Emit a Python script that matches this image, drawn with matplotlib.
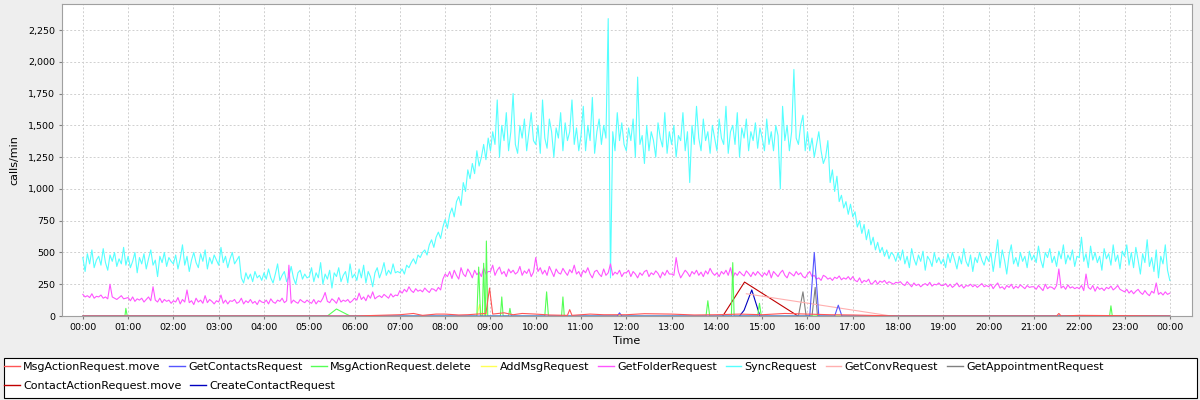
import numpy as np
import matplotlib.pyplot as plt
from matplotlib.ticker import FuncFormatter
from matplotlib.patches import Rectangle
from matplotlib.lines import Line2D

# SyncRequest, calls/min, one value every 3 minutes (20 per hour)
sync_hours = [
    [460, 350, 490, 410, 520, 380, 440, 470, 400, 530, 420, 360, 480, 430, 500, 390, 450, 410, 540, 400],
    [470, 380, 430, 500, 340, 460, 410, 490, 370, 450, 520, 400, 440, 310, 470, 420, 500, 390, 460, 430],
    [410, 480, 370, 450, 560, 400, 470, 350, 440, 500, 420, 380, 490, 430, 520, 370, 460, 410, 480, 440],
    [400, 540, 420, 470, 380, 450, 500, 410, 440, 470, 300, 260, 340, 290, 330, 270, 350, 300, 320, 280],
    [340, 290, 370, 300, 260, 330, 410, 280, 320, 350, 270, 310, 390, 300, 250, 340, 360, 290, 330, 300],
    [310, 380, 270, 340, 300, 420, 250, 330, 290, 360, 220, 340, 310, 380, 270, 320, 350, 260, 410, 300],
    [330, 280, 370, 300, 400, 260, 350, 310, 230, 340, 380, 300, 350, 420, 320, 360, 330, 410, 340, 350],
    [340, 370, 330, 400, 380, 420, 450, 410, 480, 460, 500, 520, 480, 560, 600, 540, 620, 660, 610, 700],
    [760, 690, 800, 850, 780, 900, 940, 870, 1050, 980, 1150, 1080, 1200, 1120, 1300, 1180, 1250, 1350, 1230, 1400],
    [1300, 1450, 1350, 1700, 1250, 1500, 1380, 1600, 1300, 1450, 1750, 1350, 1280, 1500, 1400, 1550, 1300, 1450, 1600, 1380],
    [1350, 1500, 1280, 1700, 1400, 1320, 1550, 1450, 1250, 1480, 1400, 1600, 1300, 1520, 1380, 1450, 1700, 1350, 1480, 1300],
    [1420, 1650, 1300, 1500, 1380, 1720, 1280, 1450, 1550, 1350, 1500, 1400, 2340, 300, 1450, 1300, 1600, 1380, 1520, 1350],
    [1300, 1480, 1380, 1550, 1250, 1880, 1350, 1420, 1200, 1500, 1300, 1450, 1380, 1250, 1520, 1400, 1330, 1600, 1280, 1450],
    [1350, 1500, 1250, 1420, 1380, 1600, 1300, 1450, 1050, 1500, 1350, 1650, 1400, 1300, 1550, 1380, 1450, 1280, 1500, 1400],
    [1300, 1550, 1400, 1350, 1650, 1280, 1450, 1500, 1350, 1600, 1250, 1480, 1400, 1550, 1300, 1450, 1380, 1520, 1320, 1480],
    [1400, 1300, 1550, 1350, 1450, 1300, 1500, 1420, 1000, 1650, 1380, 1500, 1300, 1450, 1940, 1400, 1350, 1500, 1580, 1300],
    [1450, 1300, 1400, 1250, 1350, 1450, 1300, 1200, 1250, 1380, 1050, 1150, 980, 1100, 900, 950, 850, 900, 800, 880],
    [780, 820, 700, 750, 650, 720, 600, 680, 560, 620, 520, 580, 500, 540, 470, 520, 450, 500, 480, 430],
    [500, 440, 520, 410, 470, 380, 530, 450, 400, 480, 430, 510, 360, 470, 440, 390, 500, 420, 460, 410],
    [450, 380, 490, 420, 500, 440, 370, 470, 410, 530, 430, 390, 480, 350, 460, 420, 500, 440, 400, 470],
    [430, 500, 350, 470, 600, 380, 520, 440, 330, 480, 560, 410, 460, 390, 500, 430, 470, 380, 510, 440],
    [480, 420, 550, 440, 380, 500, 460, 530, 420, 470, 390, 510, 450, 560, 410, 480, 440, 520, 390, 470],
    [460, 620, 430, 490, 380, 550, 440, 500, 420, 470, 360, 530, 450, 490, 400, 560, 430, 480, 370, 510],
    [470, 560, 400, 500, 380, 540, 440, 330, 490, 420, 600, 390, 460, 350, 520, 300, 470, 410, 560, 360],
]
sync_last = 280

# GetFolderRequest, same 3 minute grid
folder_hours = [
    [170, 150, 160, 145, 175, 140, 155, 150, 165, 140, 150, 135, 250, 150, 140, 130, 145, 160, 135, 140],
    [145, 120, 150, 115, 135, 125, 140, 110, 130, 150, 120, 230, 125, 110, 140, 105, 130, 115, 125, 100],
    [120, 110, 145, 95, 130, 110, 205, 105, 120, 90, 140, 110, 125, 100, 160, 105, 130, 115, 95, 120],
    [110, 165, 100, 125, 95, 120, 115, 130, 100, 110, 140, 95, 120, 105, 130, 100, 115, 90, 125, 110],
    [105, 125, 95, 135, 110, 100, 125, 115, 140, 105, 120, 400, 100, 125, 110, 100, 130, 115, 105, 125],
    [110, 100, 130, 95, 120, 110, 140, 185, 115, 105, 135, 120, 100, 145, 110, 125, 115, 130, 105, 120],
    [140, 125, 180, 130, 150, 120, 165, 140, 190, 135, 150, 160, 145, 170, 155, 140, 175, 150, 165, 160],
    [200, 180, 210, 190, 230, 200, 185, 215, 195, 205, 190, 220, 200, 185, 215, 210, 195, 225, 205, 290],
    [330, 310, 350, 295, 360, 320, 290, 380, 330, 310, 370, 340, 300, 360, 325, 345, 310, 380, 330, 350],
    [350, 400, 320, 360, 385, 330, 350, 310, 370, 340, 360, 330, 345, 390, 320, 355, 335, 370, 310, 345],
    [460, 350, 380, 330, 360, 320, 390, 350, 310, 370, 340, 330, 375, 345, 320, 365, 340, 400, 330, 350],
    [310, 360, 340, 380, 330, 300, 350, 360, 330, 310, 370, 320, 340, 410, 320, 345, 330, 360, 310, 340],
    [340, 360, 310, 350, 330, 300, 340, 320, 350, 360, 310, 340, 325, 355, 335, 300, 345, 320, 360, 330],
    [330, 320, 460, 350, 300, 330, 360, 340, 310, 350, 330, 360, 320, 345, 310, 355, 330, 375, 340, 320],
    [340, 310, 350, 330, 360, 320, 380, 300, 340, 320, 350, 330, 315, 355, 335, 310, 345, 320, 350, 330],
    [310, 340, 320, 360, 300, 350, 330, 310, 340, 360, 320, 300, 345, 330, 315, 350, 325, 340, 310, 300],
    [330, 350, 310, 320, 290, 300, 280, 320, 310, 290, 300, 280, 305, 295, 315, 285, 300, 290, 310, 285],
    [310, 280, 270, 300, 260, 280, 270, 290, 250, 260, 280, 250, 275, 265, 280, 255, 270, 260, 250, 265],
    [260, 270, 250, 240, 270, 250, 230, 260, 240, 250, 230, 245, 255, 240, 265, 235, 250, 245, 260, 240],
    [240, 255, 230, 250, 225, 240, 260, 230, 245, 220, 240, 235, 250, 230, 245, 225, 240, 255, 230, 240],
    [230, 250, 215, 240, 260, 220, 230, 210, 240, 225, 250, 215, 235, 220, 245, 230, 215, 240, 225, 230],
    [230, 210, 240, 220, 200, 250, 215, 230, 225, 210, 240, 370, 220, 235, 210, 245, 220, 230, 215, 225],
    [215, 240, 200, 330, 225, 210, 240, 195, 230, 210, 220, 200, 225, 215, 235, 205, 220, 240, 210, 200],
    [190, 210, 180, 200, 175, 195, 210, 185, 170, 200, 175, 160, 195, 180, 260, 170, 185, 165, 190, 170],
]
folder_last = 180

# sparse series: (hour, calls/min)
move_t = [0, 6.0, 6.5, 7.0, 7.3, 7.5, 7.8, 8.0, 8.3, 8.5, 8.9, 8.98, 9.05, 9.3, 9.5,
          9.7, 10.0, 10.3, 10.7, 10.75, 10.8, 11.2, 11.5, 12.0, 12.4, 13.0, 13.5,
          14.0, 14.5, 15.0, 15.5, 16.0, 16.5, 17.0, 18.0, 21.5, 21.55, 21.6, 22.0, 24.0]
move_v = [0, 0, 5, 10, 20, 5, 15, 15, 8, 10, 20, 220, 15, 25, 10,
          20, 15, 8, 5, 50, 5, 15, 10, 10, 18, 15, 8,
          10, 15, 10, 20, 15, 10, 8, 0, 0, 20, 0, 5, 0]

contacts_t = [0, 11.8, 11.85, 11.9, 16.05, 16.15, 16.25, 16.6, 16.68, 16.76, 24]
contacts_v = [0, 0, 25, 0, 0, 500, 0, 0, 85, 0, 0]

delete_t = [0, 0.93, 0.95, 0.98, 5.4, 5.6, 5.9, 8.7, 8.74, 8.78, 8.82, 8.85, 8.88,
            8.89, 8.91, 8.94, 9.22, 9.25, 9.28, 9.4, 9.43, 9.46, 10.2, 10.24, 10.28,
            10.57, 10.6, 10.63, 13.76, 13.8, 13.84, 14.32, 14.35, 14.38, 14.9, 14.94,
            14.98, 22.67, 22.7, 22.73, 24]
delete_v = [0, 0, 60, 0, 0, 55, 0, 0, 385, 0, 0, 415, 0,
            0, 590, 0, 0, 150, 0, 0, 60, 0, 0, 190, 0,
            0, 150, 0, 0, 120, 0, 0, 420, 0, 0, 100,
            0, 0, 80, 0, 0]

addmsg_t = [8.7, 8.76, 8.8, 8.85, 8.88, 8.92]
addmsg_v = [0, 90, 0, 0, 60, 0]

conv_t = [14.65, 17.85, 24]
conv_v = [175, 0, 0]

appt_t = [15.8, 15.9, 15.97, 16.1, 16.17, 16.22]
appt_v = [0, 190, 0, 0, 225, 0]

cmove_t = [14.13, 14.61, 15.79]
cmove_v = [0, 267, 0]

create_t = [14.5, 14.6, 14.77, 14.95]
create_v = [0, 45, 205, 0]

names = ['MsgActionRequest.move', 'GetContactsRequest', 'MsgActionRequest.delete',
         'AddMsgRequest', 'GetFolderRequest', 'SyncRequest', 'GetConvRequest',
         'GetAppointmentRequest', 'ContactActionRequest.move', 'CreateContactRequest']
colors = ['#FF5555', '#5555FF', '#55FF55', '#FFFF55', '#FF55FF', '#55FFFF',
          '#FFAFAF', '#808080', '#C00000', '#0000C0']
hour_labels = ['%02d:00' % (h % 24) for h in range(25)]

grid_t = np.arange(24 * 20 + 1) / 20.0
sync = np.array([v for h in sync_hours for v in h] + [sync_last])
folder = np.array([v for h in folder_hours for v in h] + [folder_last])

series = [(move_t, move_v), (contacts_t, contacts_v), (delete_t, delete_v),
          (addmsg_t, addmsg_v), (grid_t, folder), (grid_t, sync),
          (conv_t, conv_v), (appt_t, appt_v), (cmove_t, cmove_v),
          (create_t, create_v)]

plt.rcParams['font.family'] = 'DejaVu Sans'
fig = plt.figure(figsize=(12, 4), dpi=100, facecolor='#EEEEEE')
ax = fig.add_axes([62 / 1200, 84 / 400, 1130 / 1200, 312 / 400])
ax.set_facecolor('white')

n = len(series)
for i, (tx, vy) in enumerate(series):
    ax.plot(tx, vy, color=colors[i], lw=0.8, zorder=3 + (n - i) * 0.1)

ax.set_xlim(-0.46, 24.49)
ax.set_ylim(0, 2455)
ax.set_xticks(range(25))
ax.set_xticklabels(hour_labels)
ax.set_yticks(range(0, 2251, 250))
ax.yaxis.set_major_formatter(FuncFormatter(lambda v, p: '{:,.0f}'.format(v)))
ax.tick_params(labelsize=6.8, length=2, color='#808080', pad=3)
ax.grid(True, color='#D0D0D0', ls=(0, (2, 2)), lw=0.7)
ax.set_axisbelow(True)
for s in ax.spines.values():
    s.set_color('#A0A0A0')
    s.set_linewidth(0.8)
ax.set_xlabel('Time', fontsize=8, labelpad=3)
ax.set_ylabel('calls/min', fontsize=8, labelpad=6)

# legend box like JFreeChart: two rows, left aligned
fig.patches.append(Rectangle((4 / 1200, 2 / 400), 1193 / 1200, 40 / 400,
                             transform=fig.transFigure, facecolor='white',
                             edgecolor='black', lw=0.8, zorder=0))
handles = [Line2D([], [], color=c, lw=1) for c in colors]
kw = dict(frameon=False, fontsize=8, handlelength=1.4, handletextpad=0.3,
          columnspacing=0.8, borderaxespad=0, borderpad=0)
leg1 = fig.legend(handles[:8], names[:8], ncol=8, loc='center left',
                  bbox_to_anchor=(4 / 1200, 33 / 400), **kw)
leg2 = fig.legend(handles[8:], names[8:], ncol=2, loc='center left',
                  bbox_to_anchor=(4 / 1200, 14 / 400), **kw)

fig.savefig('out.png', dpi=100, facecolor=fig.get_facecolor())
